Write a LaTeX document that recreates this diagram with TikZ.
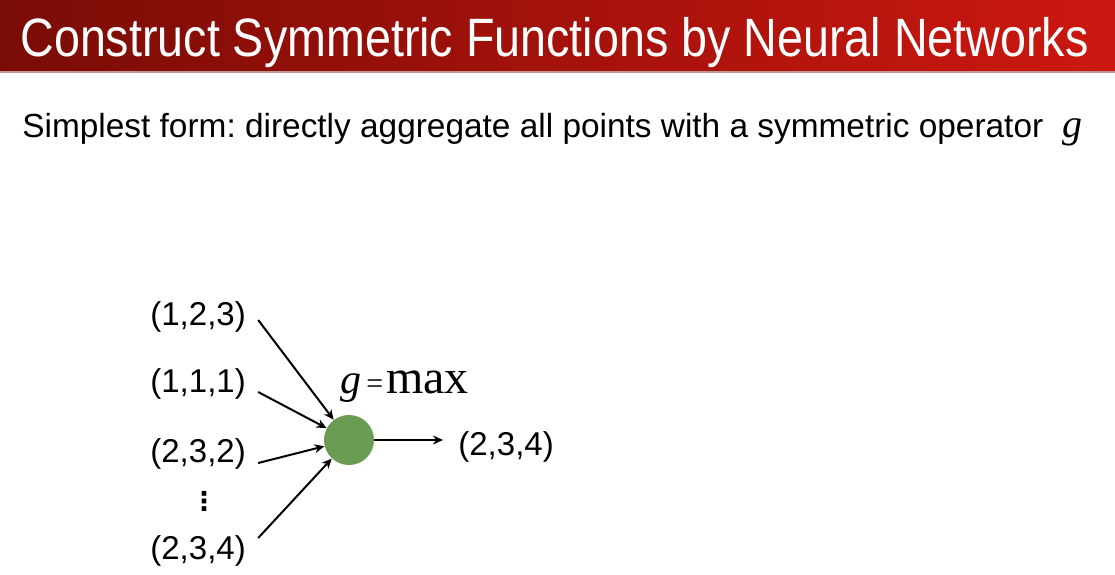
\documentclass[tikz,border=0pt]{standalone}
\usepackage{fontspec}
\setmainfont{Liberation Sans}
\newfontfamily\titlefont[FakeStretch=0.864]{Liberation Sans}
\newfontfamily\timesfont{Liberation Serif}
\newfontfamily\symfont{DejaVu Sans}
\usetikzlibrary{arrows.meta, positioning}
\frenchspacing

\definecolor{bardark}{RGB}{122,12,6}
\definecolor{barlight}{RGB}{204,24,16}
\definecolor{barline}{RGB}{196,150,148}
\definecolor{nodegreen}{RGB}{106,155,82}

\begin{document}
\begin{tikzpicture}[
    x=0.5pt, y=-0.5pt,
    vec/.style={font=\fontsize{16.5}{18}\selectfont, inner sep=0pt, anchor=base west},
    arrow/.style={line width=1pt, -{Stealth[length=5pt, width=4.5pt]}},
    neuron/.style={circle, fill=nodegreen, minimum size=25pt, inner sep=0pt}
]
\useasboundingbox (0,0) rectangle (1115,574);

% ===== TITLE BAR =====
\shade[left color=bardark, right color=barlight] (0,0) rectangle (1115,71);
\fill[barline] (0,71) rectangle (1115,72.5);
\node[anchor=base west, inner sep=0pt, text=white, font=\titlefont\fontsize{27}{30}\selectfont] (title) at (20,56) {Construct Symmetric Functions by Neural Networks};

% ===== SUBTITLE =====
\node[anchor=base west, inner sep=0pt, font=\fontsize{16.7}{20}\selectfont] (sub) at (22,137) {Simplest form: directly aggregate all points with a symmetric operator};
\node[anchor=base west, inner sep=0pt, font=\timesfont\itshape\fontsize{20}{22}\selectfont] (opg) at (1062,137) {g};

% ===== INPUT POINTS =====
\node[vec] (p1) at (150,325) {(1,2,3)};
\node[vec] (p2) at (150,392) {(1,1,1)};
\node[vec] (p3) at (150,462) {(2,3,2)};
\node[inner sep=0pt, font=\symfont\bfseries\fontsize{13}{14}\selectfont] (dots) at (204,501) {⋮};
\node[vec] (p4) at (150,559) {(2,3,4)};

% ===== AGGREGATION NODE =====
\node[neuron] (agg) at (349,440) {};
\node[anchor=base west, inner sep=0pt, font=\timesfont\fontsize{24}{26}\selectfont] (gmax) at (340,393) {{\fontsize{21}{22}\selectfont\textit{g}}\hspace{2.5pt}{\fontsize{15}{15}\selectfont =}\hspace{1.5pt}max};

% ===== OUTPUT =====
\node[vec] (out) at (458,455) {(2,3,4)};

% ===== CONNECTIONS =====
\draw[arrow] ([xshift=6pt,yshift=2.5pt]p1.base east) -- (agg);
\draw[arrow] ([xshift=6pt]p2.base east) -- (agg);
\draw[arrow] ([xshift=6pt,yshift=-0.5pt]p3.base east) -- (agg);
\draw[arrow] ([xshift=6pt,yshift=10.5pt]p4.base east) -- (agg);
\draw[arrow] (agg) -- ([xshift=-7.5pt]agg -| out.west);

\end{tikzpicture}
\end{document}
